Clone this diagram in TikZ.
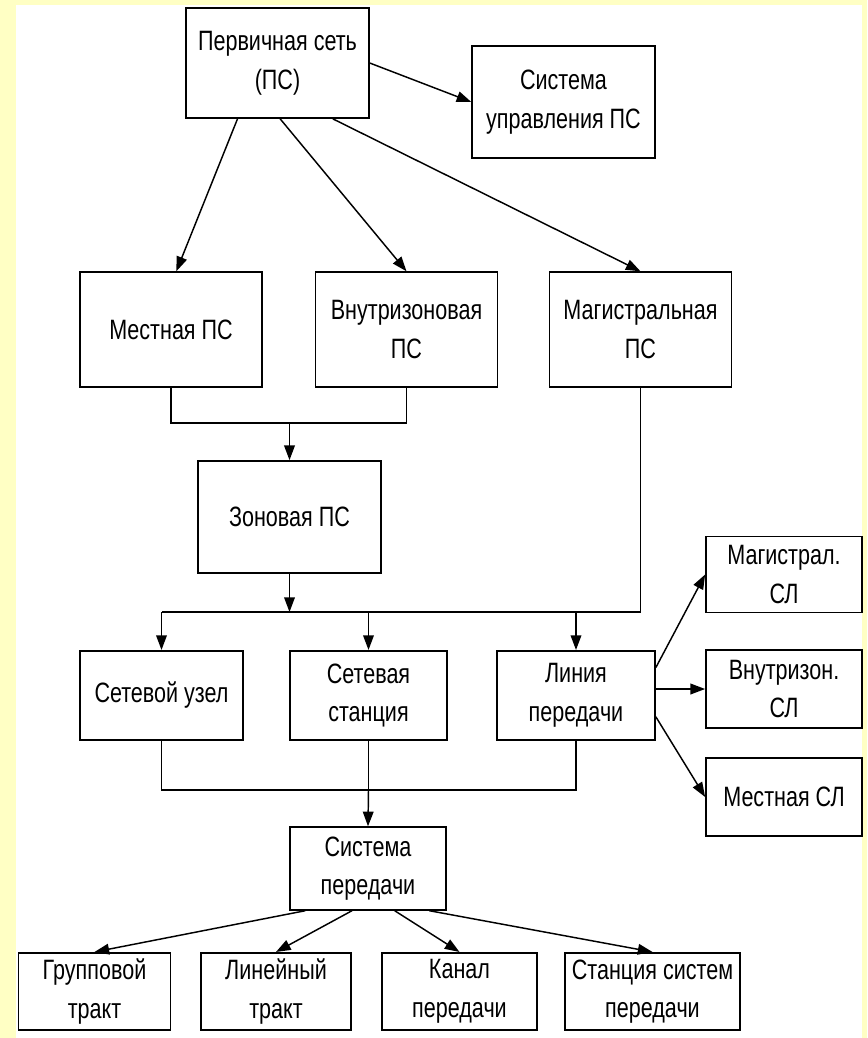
\documentclass[tikz,border=0pt]{standalone}
\usepackage{fontspec}
\setmainfont[FakeStretch=0.77]{Liberation Sans}
\usetikzlibrary{arrows.meta}
\definecolor{bgyellow}{RGB}{255,255,196}
\begin{document}
\begin{tikzpicture}[
        x=0.75pt, y=-0.75pt,
        every node/.style={font=\fontsize{21}{29}\selectfont},
        box/.style 2 args={rectangle, draw=black, line width=1.3pt, fill=white, align=center, inner sep=0pt, minimum width=#1, minimum height=#2},
        arrow/.style={line width=1.1pt, -{Triangle[length=11pt,width=8pt]}},
        line/.style={line width=1.1pt}
    ]
        \fill[bgyellow] (0,0) rectangle (867,1038);
        \fill[white] (16,5) rectangle (862,1038);

        \node[box={137pt}{82.5pt}] (ps) at (277.5,63) {Первичная сеть\\(ПС)};
        \node[box={137pt}{84pt}] (upr) at (563.5,102) {Система\\управления ПС};
        \node[box={136.5pt}{86pt}] (mest) at (171,329.5) {Местная ПС};
        \node[box={136.5pt}{86pt}] (vnutr) at (406.5,329.5) {Внутризоновая\\ПС};
        \node[box={136.5pt}{86pt}] (magistr) at (640.5,329.5) {Магистральная\\ПС};
        \node[box={137pt}{84pt}] (zon) at (289.5,517) {Зоновая ПС};
        \node[box={122pt}{67pt}] (uzel) at (161.5,695.5) {Сетевой узел};
        \node[box={118pt}{67pt}] (stanc) at (368.5,695.5) {Сетевая\\станция};
        \node[box={118.5pt}{67pt}] (linia) at (576,695.5) {Линия\\передачи};
        \node[box={117pt}{57pt}] (magsl) at (784,574.5) {Магистрал.\\СЛ};
        \node[box={117pt}{59pt}] (vnsl) at (784,689) {Внутризон.\\СЛ};
        \node[box={117pt}{58pt}] (mestsl) at (784,797) {Местная СЛ};
        \node[box={117pt}{62pt}] (sp) at (368,868.5) {Система\\передачи};
        \node[box={114pt}{58pt}] (grup) at (94.5,991.5) {Групповой\\тракт};
        \node[box={113pt}{58pt}] (lin) at (276,991.5) {Линейный\\тракт};
        \node[box={116pt}{58pt}] (kanal) at (459.5,991.5) {Канал\\передачи};
        \node[box={131pt}{58pt}] (stsp) at (652.5,991.5) {Станция систем\\передачи};

        \coordinate (j1) at (289.5,423);
        \coordinate (j2) at (289.5,612);
        \coordinate (j3) at (368.5,790);

        \draw[arrow] (ps.east) -- (upr.west);
        \draw[arrow] ([xshift=-30pt]ps.south) -- ([xshift=4pt]mest.north);
        \draw[arrow] ([xshift=2pt]ps.south) -- (vnutr.north);
        \draw[arrow] ([xshift=41.5pt]ps.south) -- (magistr.north);

        \draw[line] (mest.south) |- (j1) -| (vnutr.south);
        \draw[arrow] (j1) -- (zon.north);
        \draw[arrow] (zon.south) -- (j2);
        \draw[line] (magistr.south) |- (uzel.north |- j2);
        \draw[arrow] (uzel.north |- j2) -- (uzel.north);
        \draw[arrow] (stanc.north |- j2) -- (stanc.north);
        \draw[arrow] (linia.north |- j2) -- (linia.north);

        \draw[line] (uzel.south) |- (j3) -| (linia.south);
        \draw[line] (stanc.south) -- (j3);
        \draw[arrow] (j3) -- (sp.north);

        \draw[arrow] ([yshift=21pt]linia.east) -- (magsl.west);
        \draw[arrow] (linia.east |- vnsl.west) -- (vnsl.west);
        \draw[arrow] ([yshift=-16pt]linia.east) -- (mestsl.west);

        \draw[arrow] ([xshift=-47pt]sp.south) -- (grup.north);
        \draw[arrow] ([xshift=-12pt]sp.south) -- (lin.north);
        \draw[arrow] ([xshift=20pt]sp.south) -- (kanal.north);
        \draw[arrow] ([xshift=46pt]sp.south) -- (stsp.north);
    \end{tikzpicture}
\end{document}
